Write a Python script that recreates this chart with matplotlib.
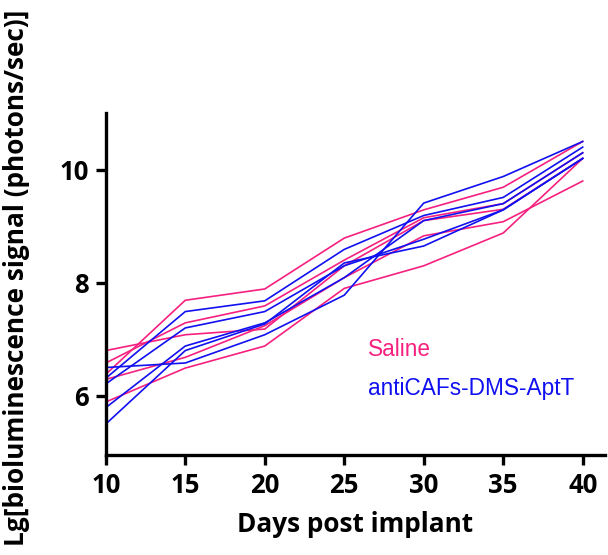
import matplotlib
matplotlib.use("Agg")
import matplotlib.pyplot as plt

# days of measurement
days = [10, 15, 20, 25, 30, 35, 40]

# Lg bioluminescence, one list per mouse
saline = [
    [6.38, 7.69, 7.89, 8.79, 9.29, 9.69, 10.50],
    [6.58, 7.29, 7.59, 8.40, 9.15, 9.40, 10.30],
    [6.80, 7.08, 7.18, 8.30, 9.10, 9.30, 10.20],
    [6.29, 6.68, 7.24, 8.09, 8.83, 9.08, 9.80],
    [5.89, 6.49, 6.88, 7.90, 8.30, 8.88, 10.20],
]
aptt = [
    [6.50, 6.58, 7.08, 7.78, 9.41, 9.88, 10.50],
    [6.31, 7.49, 7.68, 8.59, 9.19, 9.51, 10.40],
    [6.21, 7.20, 7.49, 8.30, 8.77, 9.29, 10.20],
    [5.79, 6.88, 7.29, 8.09, 9.10, 9.40, 10.30],
    [5.50, 6.80, 7.27, 8.35, 8.65, 9.29, 10.20],
]

xticks = [10, 15, 20, 25, 30, 35, 40]
yticks = [6, 8, 10]

pink = "#f5207f"
blue = "#1010f0"

fig = plt.figure(figsize=(6.08, 5.55), dpi=100)
ax = fig.add_axes([0.174, 0.180, 0.821, 0.616])

for row in saline:
    ax.plot(days, row, color=pink, lw=1.2)
for row in aptt:
    ax.plot(days, row, color=blue, lw=1.2)

ax.set_xlim(10, 41.4)
ax.set_ylim(4.95, 11.0)
ax.set_xticks(xticks)
ax.set_yticks(yticks)

for s in ["top", "right"]:
    ax.spines[s].set_visible(False)
for s in ["left", "bottom"]:
    ax.spines[s].set_linewidth(2.4)
ax.tick_params(width=2.4, length=7, direction="out", pad=5)

for lab in ax.get_xticklabels() + ax.get_yticklabels():
    lab.set_fontfamily("Open Sans")
    lab.set_fontweight("bold")
    lab.set_fontsize(18.5)

ax.set_xlabel("Days post implant", fontsize=18.8, fontweight="bold",
              fontfamily="Open Sans", labelpad=9)
# y label nearly fills the full figure height
fig.text(0.027, 0.5, "Lg[bioluminescence signal (photons/sec)]",
         rotation=90, ha="center", va="center", fontsize=18.9,
         fontweight="bold", fontfamily="Open Sans")

ax.text(26.5, 6.81, "Saline", color=pink, fontsize=16.3,
        fontfamily="Liberation Sans", va="center")
ax.text(26.5, 6.12, "antiCAFs-DMS-AptT", color=blue, fontsize=16.3,
        fontfamily="Liberation Sans", va="center")

fig.savefig("out.png", dpi=100)
